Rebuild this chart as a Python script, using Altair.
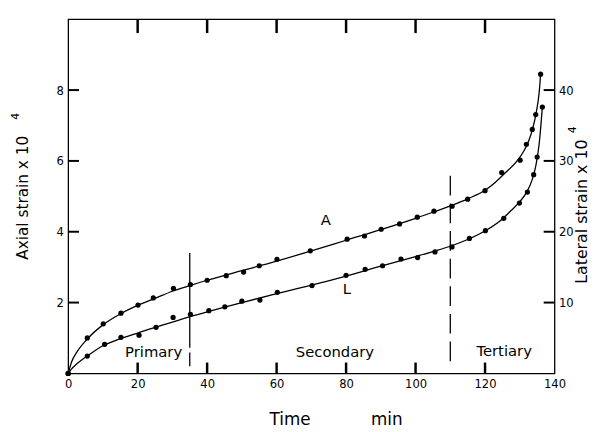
import altair as alt
import pandas as pd

time_a = [0, 5.5, 10.1, 15.2, 20.1, 24.5, 30.3, 35.2, 40.0, 45.5, 50.5, 55.0, 60.1,
          69.7, 80.3, 85.3, 90.1, 95.4, 100.5, 105.3, 110.5, 115.0, 120.0, 124.8,
          130.1, 131.9, 133.6, 134.6, 136.0]
axial = [0, 1.00, 1.40, 1.70, 1.93, 2.13, 2.40, 2.51, 2.63, 2.76, 2.86, 3.04, 3.22,
         3.46, 3.79, 3.88, 4.07, 4.22, 4.41, 4.58, 4.72, 4.92, 5.16, 5.67,
         6.02, 6.47, 6.89, 7.31, 8.45]

time_l = [0, 5.5, 10.5, 15.2, 20.4, 25.3, 30.2, 35.2, 40.5, 45.1, 50.0, 55.2, 60.2,
          70.2, 80.0, 85.5, 90.5, 95.8, 100.6, 105.6, 110.5, 115.5, 120.1, 125.4,
          129.9, 132.2, 134.0, 135.0, 136.5]
lateral = [0, 2.45, 4.1, 5.1, 5.4, 6.5, 7.9, 8.35, 8.85, 9.4, 10.2, 10.35, 11.45,
           12.4, 13.85, 14.7, 15.2, 16.15, 16.35, 17.15, 17.85, 19.05, 20.15, 21.9,
           24.05, 25.6, 28.05, 30.55, 37.6]

# ---- smooth fitted curves as drawn in the reference ----
curve_a_t = [0, 1, 2.5, 5.5, 10, 15, 20, 25, 30, 35, 40, 50, 60, 70, 80, 90, 100,
             105, 110, 115, 120, 123, 126, 129, 131, 132.5, 133.6, 134.8, 135.6, 136]
curve_a_v = [0, 0.33, 0.6, 0.97, 1.37, 1.68, 1.92, 2.12, 2.32, 2.48, 2.63, 2.90,
             3.17, 3.46, 3.76, 4.06, 4.38, 4.55, 4.73, 4.93, 5.17, 5.40, 5.68,
             5.97, 6.25, 6.55, 6.87, 7.4, 7.95, 8.45]
curve_l_t = [0, 1, 2.5, 5.5, 10, 15, 20, 25, 30, 35, 40, 50, 60, 70, 80, 90, 100,
             105, 110, 115, 120, 124, 127, 130, 132, 133.5, 134.7, 135.6, 136.5]
curve_l_v = [0, 0.65, 1.35, 2.45, 3.9, 4.9, 5.7, 6.5, 7.25, 8.0, 8.7, 10.0, 11.25,
             12.45, 13.75, 15.15, 16.5, 17.2, 17.95, 18.9, 20.1, 21.4, 22.75, 24.25,
             25.6, 27.25, 29.5, 32.5, 37.6]

x_ticks = [0, 20, 40, 60, 80, 100, 120, 140]
inner_x_ticks = [20, 40, 60, 80, 100, 120]
axial_ticks = [2, 4, 6, 8]
lateral_ticks = [10, 20, 30, 40]

# phase boundaries: time, top, bottom (axial units)
bound_t = [35, 110]
bound_top = [3.4, 5.58]
bound_bot = [0.2, 0.28]

label_text = ["A", "L", "Primary", "Secondary", "Tertiary"]
label_t = [74.2, 80.2, 24.6, 76.8, 125.5]
label_v = [4.32, 2.37, 0.61, 0.61, 0.64]

x_title_1 = "Time"
x_title_2 = "min"
left_title = "Axial strain x 10"
right_title = "Lateral strain x 10"
sup = "4"

TICKFONT = "'Liberation Sans Narrow', 'DejaVu Sans Condensed', 'Liberation Sans', sans-serif"
TEXTFONT = "DejaVu Sans"
W, H = 493, 359
TL = 11  # inward tick length

dfA = pd.DataFrame({"t": time_a, "v": axial})
dfL = pd.DataFrame({"t": time_l, "v": lateral})
dfCA = pd.DataFrame({"t": curve_a_t, "v": curve_a_v})
dfCL = pd.DataFrame({"t": curve_l_t, "v": curve_l_v})
dfLab = pd.DataFrame({"t": label_t, "v": label_v, "label": label_text})
dfXT = pd.DataFrame({"t": inner_x_ticks})
dfYA = pd.DataFrame({"v": axial_ticks})
dfYL = pd.DataFrame({"v": lateral_ticks})
one = pd.DataFrame({"k": [0]})

xscale = alt.Scale(domain=[0, 140], nice=False, zero=False)
ax_bottom = alt.Axis(values=x_ticks, orient="bottom", ticks=False,
                     domain=False, grid=False, labelPadding=4, title=None,
                     labelFont=TICKFONT, labelFontSize=13, labelColor="black",
                     labelOverlap=False, labelFlush=False)
ax_left = alt.Axis(values=axial_ticks, orient="left", ticks=False,
                   domain=False, grid=False, labelPadding=5, title=None,
                   labelFont=TICKFONT, labelFontSize=13, labelColor="black")
ax_right = alt.Axis(values=lateral_ticks, orient="right", ticks=False,
                    domain=False, grid=False, labelPadding=4, title=None,
                    labelFont=TICKFONT, labelFontSize=13, labelColor="black")

yl_scale = alt.Scale(domain=[0, 10], nice=False, zero=False)
yr_scale = alt.Scale(domain=[0, 50], nice=False, zero=False)

xb = alt.X("t:Q", scale=xscale, axis=ax_bottom)
yl = alt.Y("v:Q", scale=yl_scale, axis=ax_left)
yr = alt.Y("v:Q", scale=yr_scale, axis=ax_right)

lineA = alt.Chart(dfCA).mark_line(interpolate="monotone", color="black", strokeWidth=1.3).encode(x=xb, y=yl)
ptsA = alt.Chart(dfA).mark_circle(size=28, color="black", opacity=1).encode(x=xb, y=yl)

rules = []
dashes = [[96, 5], [20, 8]]
for i in range(2):
    dfr = pd.DataFrame({"t": [bound_t[i]], "v": [bound_top[i]], "v2": [bound_bot[i]]})
    rules.append(
        alt.Chart(dfr).mark_rule(color="black", strokeWidth=1.3, strokeDash=dashes[i])
        .encode(x=xb, y=yl, y2="v2:Q")
    )

labels = alt.Chart(dfLab).mark_text(font=TEXTFONT, fontSize=15, color="black",
                                    align="center", baseline="middle").encode(
    x=xb, y=yl, text="label:N")

# inward ticks (tick marks: thin rects of given length)
tick_bottom = alt.Chart(dfXT).mark_tick(color="black", thickness=2.5, size=TL, orient="vertical", opacity=1).encode(
    x=xb, y=alt.value(H - TL / 2))
tick_top = alt.Chart(dfXT).mark_tick(color="black", thickness=2.5, size=14, orient="vertical", opacity=1).encode(
    x=xb, y=alt.value(7))
tick_left = alt.Chart(dfYA).mark_tick(color="black", thickness=2, size=TL, orient="horizontal", opacity=1).encode(
    y=yl, x=alt.value(TL / 2))

def ptext(txt, x, y, size, angle=0, baseline="alphabetic"):
    kw = dict(text=txt, font=TEXTFONT, fontSize=size, color="black",
              align="center", baseline=baseline)
    if angle:
        kw["angle"] = angle
    return alt.Chart(one).mark_text(**kw).encode(x=alt.value(x), y=alt.value(y))

titles = [
    ptext(x_title_1, 225, 411.5, 17),
    ptext(x_title_2, 323, 411.5, 17),
    ptext(left_title, -41, 181, 15.5, angle=270),
    ptext(sup, -53, 98.5, 11, angle=270, baseline="middle"),
    ptext(right_title, 526, 195, 16, angle=270),
    ptext(sup, 512, 112, 11, angle=270, baseline="middle"),
]

left = alt.layer(lineA, ptsA, *rules, labels, tick_bottom, tick_top, tick_left, *titles)

lineL = alt.Chart(dfCL).mark_line(interpolate="monotone", color="black", strokeWidth=1.3).encode(x=xb, y=yr)
ptsL = alt.Chart(dfL).mark_circle(size=28, color="black", opacity=1).encode(x=xb, y=yr)
tick_right = alt.Chart(dfYL).mark_tick(color="black", thickness=2, size=TL, orient="horizontal", opacity=1).encode(
    y=yr, x=alt.value(W - TL / 2))
right = alt.layer(lineL, ptsL, tick_right)

chart = (
    alt.layer(left, right)
    .resolve_scale(y="independent")
    .resolve_axis(y="independent")
    .properties(
        width=W, height=H,
        autosize=alt.AutoSizeParams(type="none"),
        padding={"left": 61, "top": 8.5, "right": 38, "bottom": 56.5},
        background="white",
    )
    .configure_view(stroke="black", strokeWidth=1.3)
)

chart.save("out.html", embed_options={"renderer": "svg", "actions": False})
